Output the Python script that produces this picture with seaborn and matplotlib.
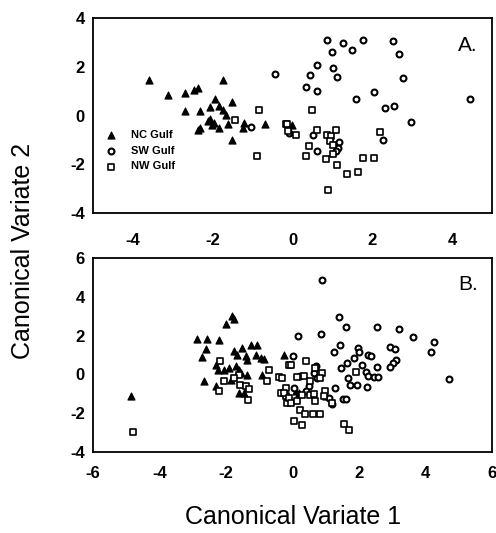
import pandas as pd
import matplotlib.pyplot as plt
import seaborn as sns

# ---- panel A data ----
a_nc_x = [-3.59, -1.74, -3.12, -2.70, -2.48, -2.37, -1.94, -1.51, -2.70, -2.31, -2.08, -1.84,
          -1.74, -1.66, -2.08, -2.03, -1.98, -1.83, -1.62, -2.37, -2.33, -1.51, -1.22, -1.23,
          -0.70, -2.12, -0.01]
a_nc_y = [1.45, 1.45, 0.83, 0.93, 1.07, 1.14, 0.68, 0.55, 0.18, 0.18, 0.34, 0.41,
          0.25, 0.04, -0.14, -0.37, -0.30, -0.50, -0.33, -0.60, -0.50, -0.98, -0.30, -0.50,
          -0.33, -0.23, -0.37]
a_sw_x = [-1.05, -0.43, 0.87, 1.26, 1.76, 2.51, 0.98, 1.48, 2.66, 0.62, 1.01, 0.43, 1.12,
          2.78, 0.34, 0.62, 1.59, 2.05, 2.33, 2.55, 2.98, 4.45, 2.26, 0.51, 1.16, 1.13, 1.09,
          0.62, -0.08]
a_sw_y = [-0.48, 1.72, 3.11, 2.98, 3.09, 3.05, 2.60, 2.68, 2.54, 2.09, 1.95, 1.68, 1.59,
          1.54, 1.16, 1.00, 0.70, 0.97, 0.31, 0.38, -0.27, 0.70, -0.98, -0.78, -1.09, -1.33,
          -1.46, -1.46, -0.71]
a_nw_x = [-0.83, -1.45, -0.88, -0.16, -0.12, 0.48, -0.14, 0.09, 0.62, 0.87, 0.97, 1.09, 0.93,
          1.01, 0.41, 0.34, 0.83, 1.01, 1.11, 1.37, 1.64, 0.90, 1.76, 2.03, 2.18]
a_nw_y = [0.22, -0.16, -1.67, -0.34, -0.64, 0.22, -0.33, -0.81, -0.60, -0.78, -0.82, -0.57,
          -1.05, -1.22, -1.26, -1.67, -1.78, -1.56, -2.01, -2.38, -2.32, -3.03, -1.73, -1.73,
          -0.68]

# ---- panel B data ----
b_nc_x = [-4.85, -1.81, -1.76, -2.01, -2.87, -2.58, -2.22, -2.60, -2.73, -2.66, -2.31, -1.51,
          -1.26, -1.06, -1.76, -1.66, -1.41, -1.36, -1.11, -0.96, -0.86, -2.31, -2.25, -2.06,
          -1.91, -1.71, -1.61, -1.56, -1.86, -1.36, -1.61, -1.46, -0.26, -0.91, 0.09, 0.19, 1.02]
b_nc_y = [-1.13, 2.99, 2.87, 2.59, 1.84, 1.84, 1.75, 1.30, 0.88, -0.32, -0.62, 1.36,
          1.53, 1.49, 1.19, 1.01, 0.93, 0.76, 1.01, 0.84, 0.81, 0.50, 0.24, 0.24,
          0.33, 0.41, 0.24, 0.07, -0.27, -0.05, -0.96, -0.96, 1.01, -0.02, -0.88, -0.96, -1.13]
b_sw_x = [0.89, 1.39, 1.61, 2.54, 3.21, 3.63, 4.25, 4.16, 4.71, 0.16, 0.87, 1.44, 1.24, 1.97,
          1.99, 2.27, 2.37, 2.93, 3.08, 3.11, 3.03, 2.93, 1.64, 1.86, 2.09, 2.54, 1.46, 2.22,
          2.27, 2.46, 2.57, 1.67, 1.74, 1.94, 2.24, 1.29, 1.52, 1.62, 0.02, 0.72, 0.64, 0.74,
          0.49, 0.42, 1.09, 1.19, 0.24, 0.04]
b_sw_y = [4.88, 2.94, 2.42, 2.42, 2.34, 1.91, 1.67, 1.13, -0.24, 1.96, 2.08, 1.53, 1.13, 1.36,
          1.15, 1.01, 0.93, 1.39, 1.30, 0.76, 0.58, 0.36, 0.58, 0.84, 0.46, 0.38, 0.32, 0.12,
          -0.10, -0.14, -0.14, -0.19, -0.53, -0.53, -0.65, -0.70, -1.27, -1.27, 0.93, 0.45, 0.07,
          -0.19, -0.62, -0.88, -1.22, -1.53, -0.10, -0.70]
b_nw_x = [-4.80, -2.18, -2.06, -2.21, -1.61, -1.76, -1.59, -1.41, -1.31, -1.34, -0.71, -0.78,
          -0.41, -0.11, -0.36, -0.21, -0.16, -0.06, 0.42, 0.67, 0.89, 0.14, 0.34, 0.54, 0.82,
          1.92, -0.31, -0.21, -0.26, -0.11, -0.06, 0.14, 0.29, 0.52, 0.64, 0.69, 0.99, 0.94,
          1.19, 0.24, 0.39, 0.61, 0.82, 0.04, 0.29, 1.54, 1.69]
b_nw_y = [-2.97, 0.67, -0.36, -0.88, -0.05, -0.19, -0.53, -0.62, -0.76, -1.34, 0.21, -0.32,
          -0.14, 0.50, -0.96, -1.13, -1.48, 0.50, 0.71, 0.33, 0.07, -0.14, -0.10, -0.36, -0.19,
          0.12, -0.19, -0.70, -0.96, -1.22, -1.48, -1.39, -1.05, -1.05, -1.02, -1.39, -0.84, -1.13,
          -1.48, -1.82, -2.03, -2.03, -2.03, -2.39, -2.59, -2.54, -2.85]

groups = ["NC Gulf", "SW Gulf", "NW Gulf"]
marker_style = {
    "NC Gulf": dict(marker="^", s=26, color="black", edgecolor="black", linewidth=0.8),
    "SW Gulf": dict(marker="o", s=18, color="white", edgecolor="black", linewidth=1.5),
    "NW Gulf": dict(marker="s", s=18, color="white", edgecolor="black", linewidth=1.2),
}


def make_df(nc_x, nc_y, sw_x, sw_y, nw_x, nw_y):
    parts = []
    for g, xs, ys in zip(groups, [nc_x, sw_x, nw_x], [nc_y, sw_y, nw_y]):
        parts.append(pd.DataFrame({"cv1": xs, "cv2": ys, "group": g}))
    return pd.concat(parts, ignore_index=True)


def draw_panel(ax, df, xlim, ylim, xticks, yticks, tag, tag_y, xpad):
    for g in groups:
        sub = df[df["group"] == g]
        sns.scatterplot(data=sub, x="cv1", y="cv2", ax=ax, label=g, **marker_style[g])
    ax.set_xlim(*xlim)
    ax.set_ylim(*ylim)
    ax.set_xticks(xticks)
    ax.set_yticks(yticks)
    ax.set_xlabel("")
    ax.set_ylabel("")
    for sp in ax.spines.values():
        sp.set_visible(True)
        sp.set_linewidth(1.3)
        sp.set_color("black")
    ax.tick_params(axis="x", direction="in", length=3, width=1, pad=xpad,
                   labelsize=12, colors="black")
    ax.tick_params(axis="y", direction="out", length=3, width=1, pad=3,
                   labelsize=12, colors="black")
    for lab in ax.get_xticklabels() + ax.get_yticklabels():
        lab.set_fontweight("bold")
    ax.text(0.965, tag_y, tag, transform=ax.transAxes, ha="right", va="top",
            fontsize=15, color="black")


def main():
    sns.set_style("white")
    plt.rcParams["font.family"] = ["Liberation Sans", "DejaVu Sans"]
    plt.rcParams["text.color"] = "black"
    plt.rcParams["axes.unicode_minus"] = False

    df_a = make_df(a_nc_x, a_nc_y, a_sw_x, a_sw_y, a_nw_x, a_nw_y)
    df_b = make_df(b_nc_x, b_nc_y, b_sw_x, b_sw_y, b_nw_x, b_nw_y)

    fig = plt.figure(figsize=(4.96, 5.33), dpi=100)
    ax_a = fig.add_axes([0.1875, 0.600, 0.8045, 0.366])
    ax_b = fig.add_axes([0.1875, 0.152, 0.8045, 0.364])

    draw_panel(ax_a, df_a, (-5, 5), (-4, 4), [-4, -2, 0, 2, 4], [-4, -2, 0, 2, 4],
               "A.", 0.91, 14)
    draw_panel(ax_b, df_b, (-6, 6), (-4, 6), [-6, -4, -2, 0, 2, 4, 6],
               [-4, -2, 0, 2, 4, 6], "B.", 0.91, 10)

    leg = ax_a.legend(loc="lower left", bbox_to_anchor=(0.0, 0.18), frameon=False,
                      fontsize=8, handletextpad=0.8, labelspacing=0.5, borderaxespad=0.2)
    for t in leg.get_texts():
        t.set_fontweight("bold")
        t.set_color("black")
    ax_b.get_legend().remove()

    fig.text(0.047, 0.53, "Canonical Variate 2", rotation=90, ha="center", va="center",
             fontsize=18, color="black")
    fig.text(0.59, 0.03, "Canonical Variate 1", ha="center", va="center", fontsize=18,
             color="black")

    fig.savefig("out.png", dpi=100)
    plt.close(fig)


if __name__ == "__main__":
    main()
